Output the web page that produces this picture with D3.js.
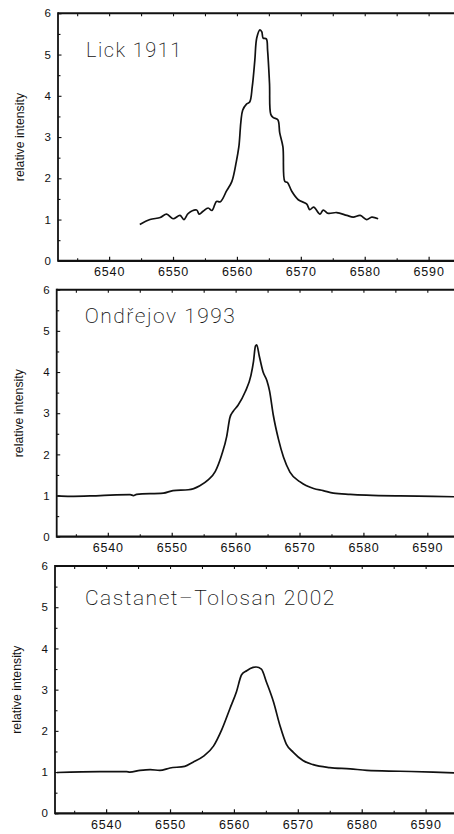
<!DOCTYPE html>
<html>
<head>
<meta charset="utf-8">
<script src="https://cdn.jsdelivr.net/npm/d3@7"></script>
<style>
  body { margin: 0; background: #fff; }
  svg { display: block; }
  .tick text { font-family: "Liberation Sans", Arial, sans-serif; fill: #111; }
  .domain { display: none; }
</style>
</head>
<body>
<svg id="chart" width="454" height="834"></svg>
<script>
// H-alpha line profiles, wavelength in Angstrom, intensity relative to continuum
const lickWavelength = [6544.8, 6546.4, 6548.0, 6549.0, 6550.0, 6551.1, 6551.7, 6552.4, 6553.7, 6554.1,
  6554.7, 6555.5, 6556.1, 6556.8, 6557.4, 6558.4, 6559.2, 6559.9, 6560.3, 6560.9, 6561.5, 6562.0,
  6562.4, 6562.8, 6563.1, 6563.6, 6563.9, 6564.1, 6564.6, 6564.8, 6565.1, 6565.3, 6565.7, 6566.4,
  6566.7, 6567.2, 6567.5, 6567.9, 6568.6, 6569.6, 6570.9, 6571.4, 6572.0, 6573.0, 6573.5, 6574.3,
  6575.6, 6577.2, 6578.2, 6579.3, 6580.3, 6581.1, 6582.1];
const lickIntensity = [0.88, 1.00, 1.05, 1.13, 1.02, 1.10, 1.00, 1.15, 1.23, 1.13,
  1.20, 1.28, 1.22, 1.44, 1.43, 1.70, 1.92, 2.40, 2.76, 3.65, 3.80, 3.85,
  4.22, 4.86, 5.40, 5.60, 5.55, 5.40, 5.38, 5.10, 4.30, 3.55, 3.47, 3.42,
  3.10, 2.76, 1.92, 1.90, 1.68, 1.48, 1.38, 1.24, 1.30, 1.13, 1.23, 1.15,
  1.17, 1.10, 1.06, 1.10, 1.00, 1.06, 1.02];

const ondrejovWavelength = [6532.1, 6534.1, 6538.8, 6543.5, 6544.0, 6544.5, 6548.7, 6550.2, 6552.6,
  6554.4, 6555.7, 6556.8, 6557.8, 6558.6, 6559.1, 6559.6, 6560.4, 6561.5, 6562.4, 6562.8, 6563.1,
  6563.3, 6563.7, 6564.3, 6564.9, 6565.3, 6565.9, 6566.7, 6567.5, 6568.5, 6570.1, 6572.2, 6573.7,
  6575.3, 6577.9, 6580.5, 6585.7, 6590.9, 6594.5];
const ondrejovIntensity = [0.99, 0.98, 1.00, 1.02, 1.00, 1.03, 1.06, 1.12, 1.14,
  1.24, 1.38, 1.58, 1.98, 2.43, 2.89, 3.04, 3.20, 3.52, 3.92, 4.26, 4.63,
  4.66, 4.39, 4.00, 3.79, 3.55, 2.95, 2.37, 1.93, 1.57, 1.33, 1.17, 1.12,
  1.06, 1.03, 1.01, 0.99, 0.98, 0.97];

const castanetWavelength = [6532.3, 6539.0, 6543.2, 6543.7, 6545.3, 6546.9, 6548.4, 6550.0, 6552.3,
  6553.6, 6555.2, 6556.8, 6558.1, 6559.4, 6560.4, 6561.2, 6562.0, 6563.0, 6563.5, 6564.3, 6565.1,
  6566.2, 6567.2, 6568.2, 6569.3, 6570.8, 6572.4, 6575.0, 6578.2, 6580.8, 6586.0, 6591.2, 6594.5];
const castanetIntensity = [0.99, 1.01, 1.01, 1.00, 1.04, 1.06, 1.04, 1.10, 1.14,
  1.24, 1.38, 1.63, 2.03, 2.55, 2.95, 3.36, 3.46, 3.54, 3.55, 3.50, 3.18,
  2.70, 2.13, 1.68, 1.48, 1.28, 1.18, 1.11, 1.08, 1.04, 1.02, 1.00, 0.98];

const panelTitles = ["Lick 1911", "Ondřejov 1993", "Castanet–Tolosan 2002"];
const xTickValues = [6540, 6550, 6560, 6570, 6580, 6590];
const xMinorTicks = [6535, 6545, 6555, 6565, 6575, 6585, 6595];
const yTickValues = [0, 1, 2, 3, 4, 5, 6];
const yMinorTicks = [0.5, 1.5, 2.5, 3.5, 4.5, 5.5];
const xDomain = [6532, 6600];
const yDomain = [0, 6];

const svg = d3.select("#chart");

// frame geometry of each of the three stacked panels
const layouts = [
  { left: 58.0, top: 13.3, bottom: 260.8, titleDx: 28, titleDy: 44, titleSize: 20, curve: d3.curveCatmullRom.alpha(0.5) },
  { left: 56.7, top: 289.7, bottom: 536.7, titleDx: 28, titleDy: 33.5, titleSize: 21, curve: d3.curveMonotoneX },
  { left: 55.0, top: 566.0, bottom: 813.3, titleDx: 30, titleDy: 39, titleSize: 21, curve: d3.curveMonotoneX }
];
const series = [
  [lickWavelength, lickIntensity],
  [ondrejovWavelength, ondrejovIntensity],
  [castanetWavelength, castanetIntensity]
];
const pxPerAngstrom = 6.39;

layouts.forEach((L, i) => {
  const x = d3.scaleLinear().domain(xDomain)
    .range([L.left, L.left + (xDomain[1] - xDomain[0]) * pxPerAngstrom]);
  const y = d3.scaleLinear().domain(yDomain).range([L.bottom, L.top]);
  const g = svg.append("g");

  // bottom axis: labelled ticks pointing inward
  g.append("g").attr("transform", `translate(0,${L.bottom})`)
    .call(d3.axisBottom(x).tickValues(xTickValues).tickSize(-4).tickPadding(6.5).tickFormat(d3.format("d")))
    .call(a => a.selectAll(".tick line").attr("stroke", "#111").attr("stroke-width", 1.2))
    .call(a => a.selectAll(".tick text").attr("font-size", 12.5).attr("letter-spacing", 0.8));
  g.append("g").attr("transform", `translate(0,${L.bottom})`)
    .call(d3.axisBottom(x).tickValues(xMinorTicks).tickSize(-2.5).tickFormat(""))
    .call(a => a.selectAll(".tick line").attr("stroke", "#111").attr("stroke-width", 1.1));

  // top edge ticks pointing down
  g.append("g").attr("transform", `translate(0,${L.top})`)
    .call(d3.axisTop(x).tickValues(xTickValues.concat(xMinorTicks)).tickSize(-3).tickFormat(""))
    .call(a => a.selectAll(".tick line").attr("stroke", "#111").attr("stroke-width", 1.1));

  // left axis
  g.append("g").attr("transform", `translate(${L.left},0)`)
    .call(d3.axisLeft(y).tickValues(yTickValues).tickSize(-3.5).tickPadding(7).tickFormat(d3.format("d")))
    .call(a => a.selectAll(".tick line").attr("stroke", "#111").attr("stroke-width", 1.1))
    .call(a => a.selectAll(".tick text").attr("font-size", 11.5));
  g.append("g").attr("transform", `translate(${L.left},0)`)
    .call(d3.axisLeft(y).tickValues(yMinorTicks).tickSize(-2.5).tickFormat(""))
    .call(a => a.selectAll(".tick line").attr("stroke", "#111").attr("stroke-width", 1.1));

  // frame lines
  g.append("line").attr("x1", L.left).attr("x2", 454).attr("y1", L.top).attr("y2", L.top)
    .attr("stroke", "#111").attr("stroke-width", 2);
  g.append("line").attr("x1", L.left).attr("x2", 454).attr("y1", L.bottom).attr("y2", L.bottom)
    .attr("stroke", "#111").attr("stroke-width", 2.2);
  g.append("line").attr("x1", L.left).attr("x2", L.left).attr("y1", L.top - 1).attr("y2", L.bottom + 1)
    .attr("stroke", "#111").attr("stroke-width", 1.8);

  // y axis title
  g.append("text")
    .attr("transform", `translate(${L.left - 34},${(L.top + L.bottom) / 2}) rotate(-90)`)
    .attr("text-anchor", "middle")
    .attr("font-family", "Liberation Sans, Arial, sans-serif")
    .attr("font-size", 12.3)
    .attr("fill", "#111")
    .text("relative intensity");

  // panel title in a thin face
  g.append("text")
    .attr("x", L.left + L.titleDx)
    .attr("y", L.top + L.titleDy)
    .attr("font-family", "Roboto, 'Open Sans', sans-serif")
    .attr("font-weight", 200)
    .attr("font-size", L.titleSize)
    .attr("letter-spacing", 1.5)
    .attr("fill", "#111")
    .text(panelTitles[i]);

  // profile
  const [wl, inten] = series[i];
  const line = d3.line().x((d, k) => x(wl[k])).y(d => y(d)).curve(L.curve);
  g.append("path").datum(inten)
    .attr("d", line)
    .attr("fill", "none")
    .attr("stroke", "#111")
    .attr("stroke-width", 1.7)
    .attr("stroke-linejoin", "round");
});
</script>
</body>
</html>
